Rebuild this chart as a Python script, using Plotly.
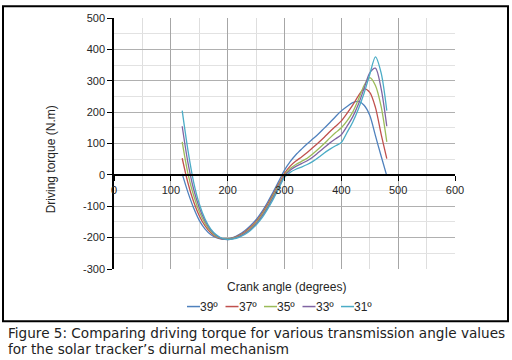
import plotly.graph_objects as go

crank_angle = [120, 130, 140, 150, 160, 170, 180, 190, 200, 210, 220, 230, 240, 250, 260, 270, 280, 290, 300,
               310, 320, 330, 340, 350, 360, 370, 380, 390, 400, 410, 420, 430, 440, 450, 460, 470, 480]

torque_39 = [3, -55, -105, -145, -172, -190, -200, -205, -204, -199, -190, -178, -162, -143, -118, -88, -55, -20, 15,
             42, 64, 82, 99, 115, 131, 149, 167, 186, 204, 218, 230, 234, 222, 190, 125, 60, -3]
torque_37 = [53, -25, -85, -130, -162, -184, -198, -204, -205, -201, -193, -182, -167, -148, -124, -95, -62, -28, 5,
             28, 44, 57, 71, 87, 103, 120, 138, 155, 172, 196, 222, 252, 274, 263, 215, 130, 52]
torque_35 = [105, 5, -65, -117, -154, -179, -196, -203, -205, -202, -195, -185, -171, -152, -128, -100, -67, -33, 0,
             20, 33, 43, 53, 67, 83, 100, 118, 135, 150, 172, 200, 240, 285, 310, 285, 218, 105]
torque_33 = [155, 40, -45, -104, -146, -175, -193, -203, -206, -203, -197, -187, -174, -156, -133, -105, -72, -38, -3,
             15, 27, 36, 45, 57, 72, 87, 102, 115, 128, 155, 185, 225, 275, 325, 340, 275, 155]
torque_31 = [205, 80, -22, -92, -140, -172, -191, -202, -206, -204, -199, -190, -177, -160, -138, -110, -78, -43, -8,
             8, 18, 25, 33, 43, 56, 70, 82, 93, 103, 135, 168, 210, 260, 320, 376, 325, 205]

series_names = ["39º", "37º", "35º", "33º", "31º"]
series_values = [torque_39, torque_37, torque_35, torque_33, torque_31]
series_colors = ["#4F81BD", "#C0504D", "#9BBB59", "#8064A2", "#4BACC6"]

x_ticks = [0, 100, 200, 300, 400, 500, 600]
x_tick_labels = ["0", "100", "200", "300", "400", "500", "600"]
y_ticks = [-300, -200, -100, 0, 100, 200, 300, 400, 500]
y_tick_labels = ["-300", "-200", "-100", "0", "100", "200", "300", "400", "500"]

x_title = "Crank angle (degrees)"
y_title = "Driving torque (N.m)"
caption_1 = "Figure 5: Comparing driving torque for various transmission angle values"
caption_2 = "for the solar tracker\u2019s diurnal mechanism"

W, H = 512, 360
L, R, T, B = 114, 57, 15, 91
PW, PH = W - L - R, H - T - B


def xp(px):
    return (px - L) / PW


def yp(py):
    return (H - B - py) / PH


fig = go.Figure()
for name, vals, col in zip(series_names, series_values, series_colors):
    fig.add_trace(go.Scatter(x=crank_angle, y=vals, mode="lines", name=name,
                             line=dict(color=col, width=1.3, shape="spline", smoothing=0.8),
                             showlegend=False))

axis_font = dict(family="Liberation Sans, Arial, sans-serif", size=11, color="#262626")

fig.update_layout(
    width=W, height=H,
    margin=dict(l=L, r=R, t=T, b=B),
    paper_bgcolor="white", plot_bgcolor="white",
    font=axis_font,
    xaxis=dict(range=[0, 600], tickvals=x_ticks, ticktext=x_tick_labels,
               showgrid=True, gridcolor="#A6A6A6", gridwidth=1,
               minor=dict(dtick=50, showgrid=True, gridcolor="#DEDEDE", gridwidth=1),
               anchor="free", position=0.375, showline=True, linecolor="black", linewidth=2,
               ticks="outside", ticklen=5, tickcolor="black", zeroline=False,
               tickfont=axis_font),
    yaxis=dict(range=[-300, 500], tickvals=y_ticks, ticktext=y_tick_labels,
               showgrid=True, gridcolor="#B0B0B0", gridwidth=1,
               minor=dict(dtick=50, showgrid=True, gridcolor="#E2E2E2", gridwidth=1),
               showline=True, linecolor="black", linewidth=1.5, ticks="outside", ticklen=5,
               tickcolor="black", zeroline=False, tickfont=axis_font),
)

# Border box around chart
fig.add_shape(type="rect", xref="paper", yref="paper",
              x0=xp(3), x1=xp(508), y0=yp(322), y1=yp(3),
              line=dict(color="black", width=2), fillcolor="rgba(0,0,0,0)", layer="above")

title_font = dict(family="Liberation Sans, Arial, sans-serif", size=12, color="#262626")
fig.add_annotation(text=y_title, xref="paper", yref="paper", x=xp(51), y=yp(158),
                   textangle=-90, showarrow=False, xanchor="center", yanchor="middle", font=title_font)
fig.add_annotation(text=x_title, xref="paper", yref="paper", x=xp(286), y=yp(287),
                   showarrow=False, xanchor="center", yanchor="middle", font=title_font)

# Legend: short coloured line keys + labels
leg_font = dict(family="Liberation Sans, Arial, sans-serif", size=12, color="#262626")
leg_x0, leg_step, key_len, leg_y = 187, 38.5, 13, 307
for i, (name, col) in enumerate(zip(series_names, series_colors)):
    kx = leg_x0 + i * leg_step
    fig.add_shape(type="line", xref="paper", yref="paper",
                  x0=xp(kx), x1=xp(kx + key_len), y0=yp(leg_y), y1=yp(leg_y),
                  line=dict(color=col, width=1.5))
    fig.add_annotation(text=name, xref="paper", yref="paper", x=xp(kx + key_len), y=yp(leg_y),
                       showarrow=False, xanchor="left", yanchor="middle", font=leg_font,
                       borderpad=0, xshift=-1)

# Caption
cap_font = dict(family="DejaVu Sans, sans-serif", size=13.6, color="#222222")
fig.add_annotation(text=caption_1, xref="paper", yref="paper", x=xp(6), y=yp(334),
                   showarrow=False, xanchor="left", yanchor="middle", font=cap_font)
fig.add_annotation(text=caption_2, xref="paper", yref="paper", x=xp(6), y=yp(350),
                   showarrow=False, xanchor="left", yanchor="middle", font=cap_font)

fig.write_html("out.html", config={"displayModeBar": False},
               post_script="document.body.style.margin='0';document.body.style.padding='0';")
